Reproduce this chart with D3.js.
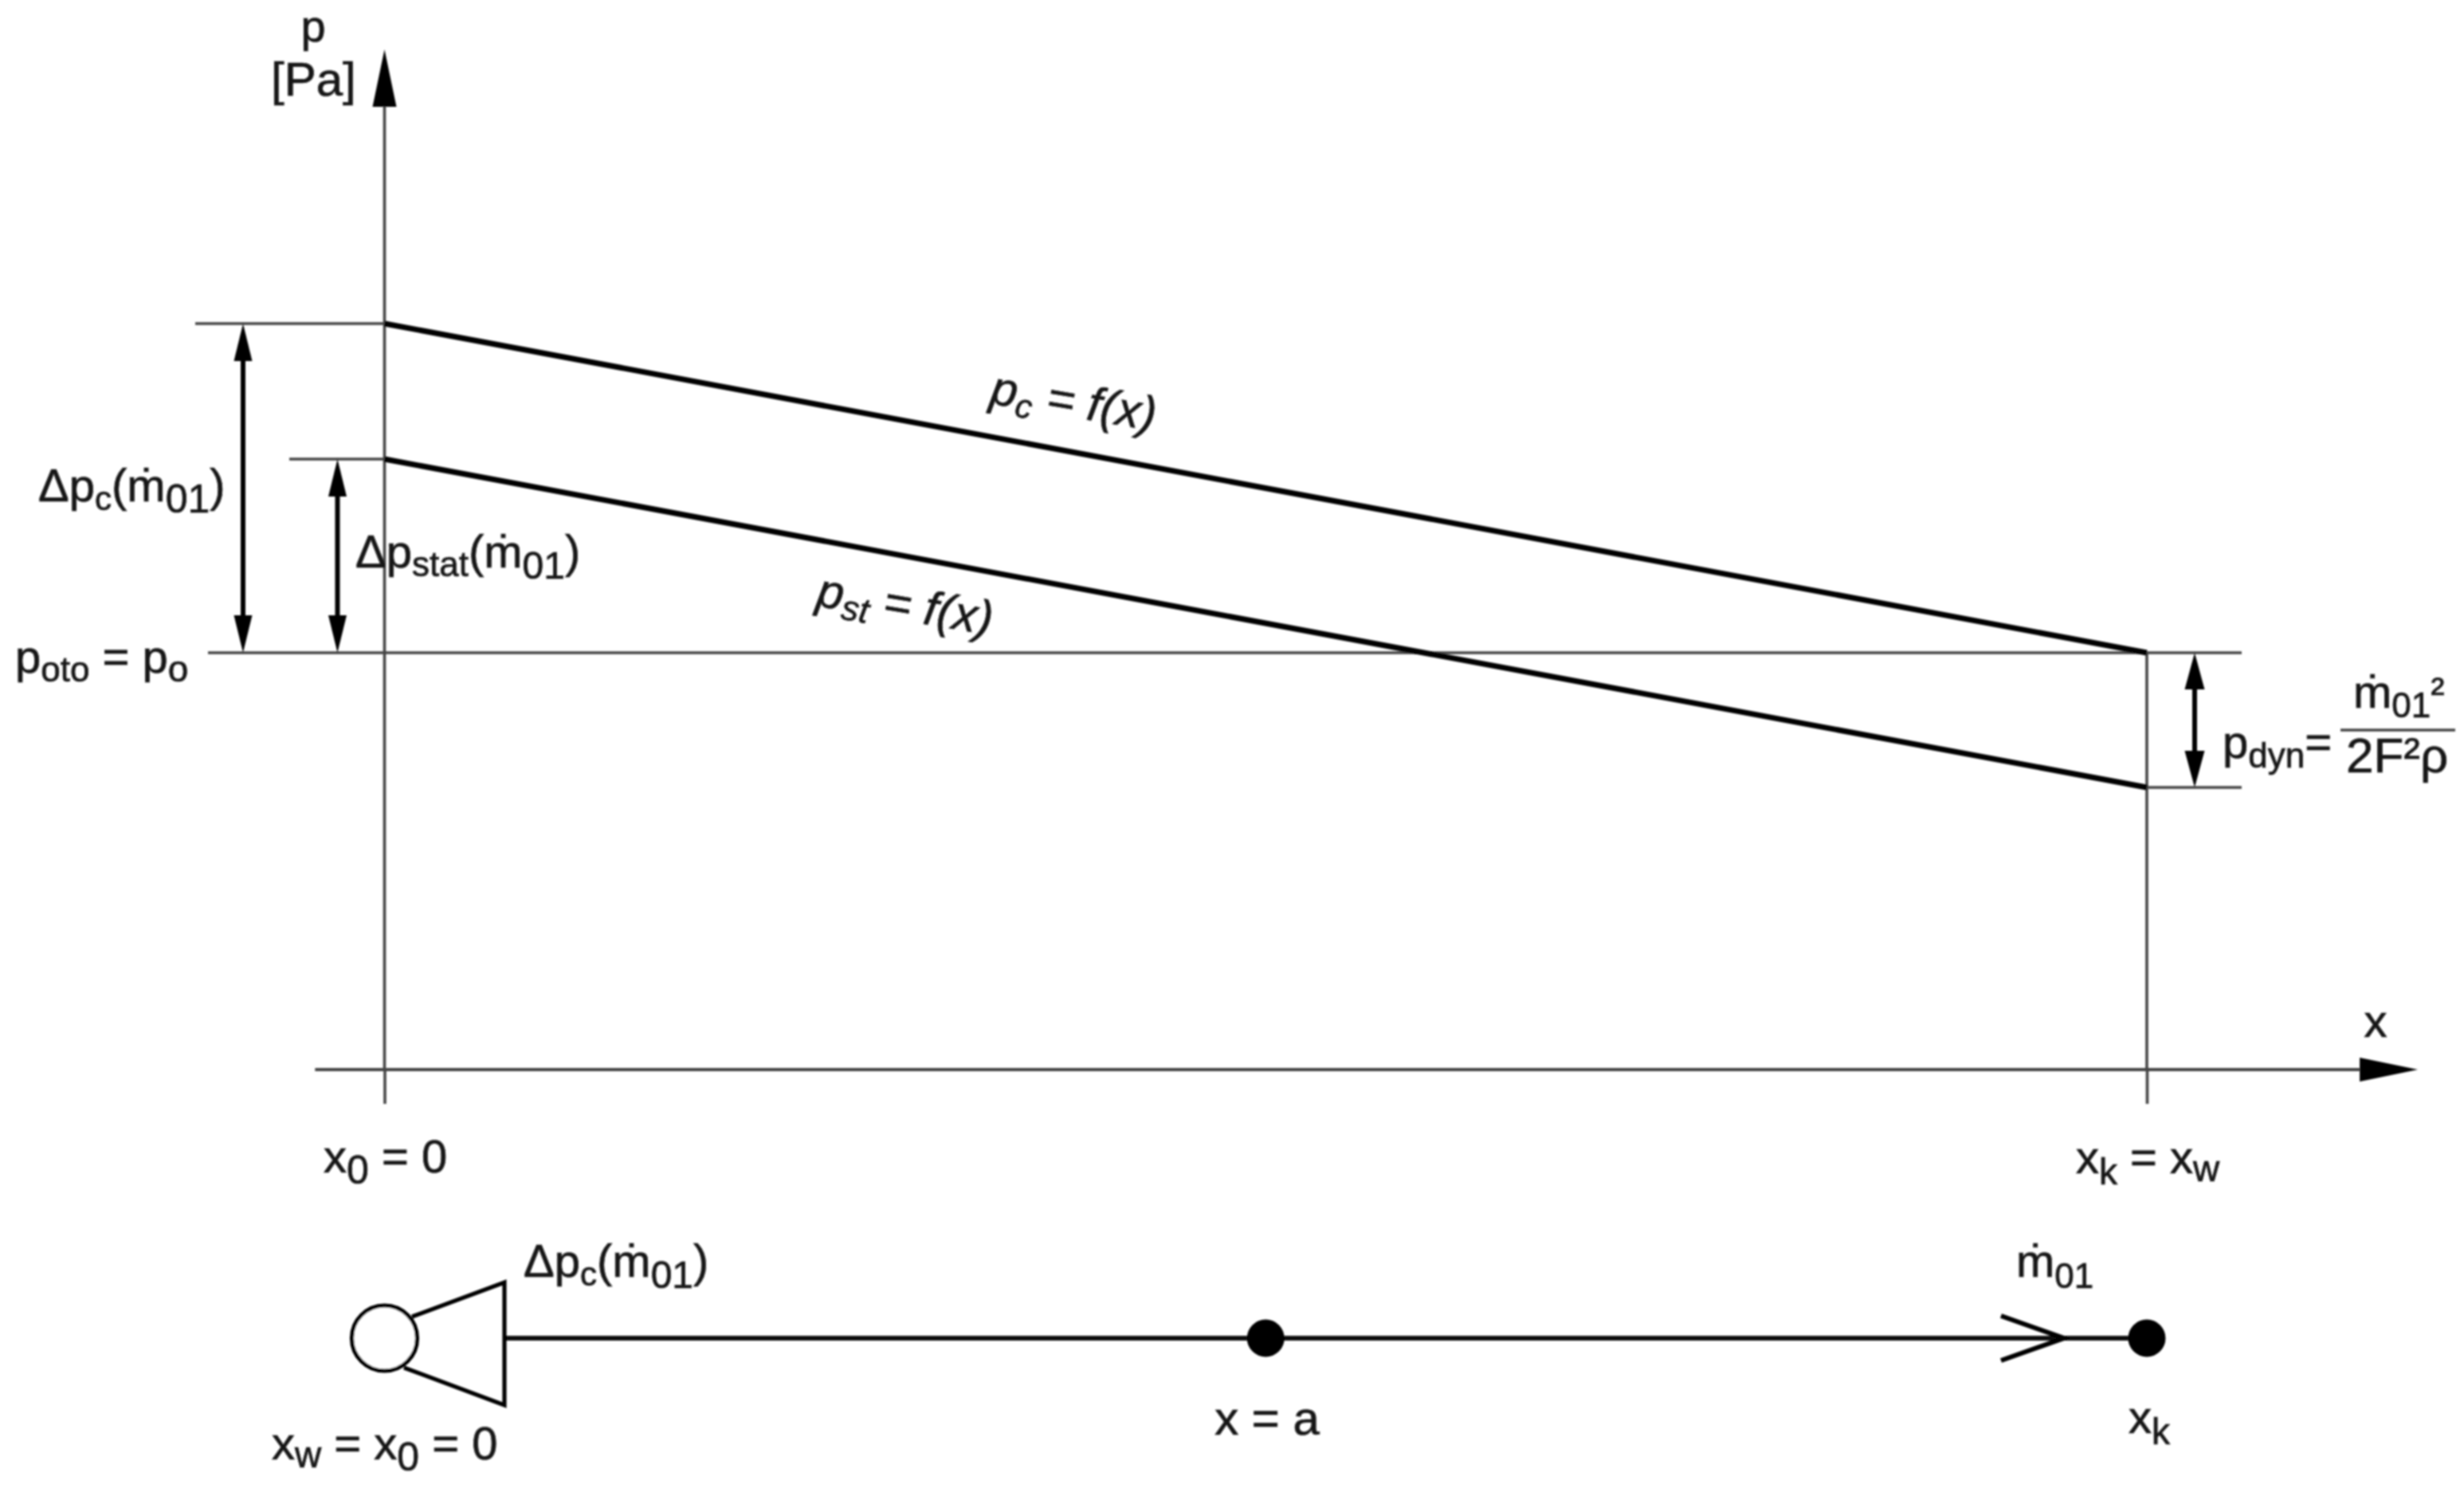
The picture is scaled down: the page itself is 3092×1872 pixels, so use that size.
<!DOCTYPE html>
<html>
<head>
<meta charset="utf-8">
<script src="https://cdn.jsdelivr.net/npm/d3@7/dist/d3.min.js"></script>
<style>
html,body{margin:0;padding:0;background:#fff;}
svg{display:block;}
text{font-family:"Liberation Sans",Arial,sans-serif;fill:#161616;stroke:#161616;stroke-width:0.7;}
</style>
</head>
<body>
<svg id="chart" width="3092" height="1872"></svg>
<script>
// ---- data (diagram units: position along the pipe 0..1, pressure relative to p0) ----
const positions = [0, 1];
const pTotal = [4.13, 0];
const pStatic = [2.43, -1.69];
const pAmbient = 0;
const pAxisBase = -5.23;
const pAxisTop = 7.57;
const xAxisStart = -0.0394;
const xAxisEnd = 1.1208;
const xArrowTip = 1.1538;
const nodePositions = [0.5, 1];
const pumpPosition = 0;

const W = 3092, H = 1872;
const x = d3.scaleLinear().domain([0, 1]).range([482.5, 2694]);
const y = d3.scaleLinear().domain([pAxisBase, pAxisTop]).range([1342, 62]);

const svg = d3.select("#chart");
const defs = svg.append("defs");
defs.append("filter").attr("id", "soft")
  .attr("filterUnits", "userSpaceOnUse").attr("x", 0).attr("y", 0).attr("width", W).attr("height", H)
  .append("feGaussianBlur").attr("stdDeviation", 1.0);
const g = svg.append("g").attr("filter", "url(#soft)");

const thin = {stroke: "#454545", w: 3.6};
function line(x1, y1, x2, y2, color, w) {
  g.append("line").attr("x1", x1).attr("y1", y1).attr("x2", x2).attr("y2", y2)
    .attr("stroke", color).attr("stroke-width", w);
}
function poly(pts, fill, stroke, w) {
  g.append("polygon").attr("points", pts.map(p => p.join(",")).join(" "))
    .attr("fill", fill).attr("stroke", stroke || "none").attr("stroke-width", w || 0);
}

// axes
const xAxisY = y(pAxisBase);
const xAxis = d3.axisBottom(x).tickValues(positions).tickFormat("").tickSize(43).tickSizeOuter(0);
const axisG = g.append("g").attr("transform", `translate(0,${xAxisY})`).call(xAxis);
axisG.select(".domain").remove();
axisG.selectAll("line").attr("stroke", thin.stroke).attr("stroke-width", thin.w);
line(x(xAxisStart), xAxisY, x(xAxisEnd), xAxisY, thin.stroke, thin.w + 0.6);
poly([[x(xArrowTip), xAxisY], [x(xAxisEnd), xAxisY - 15], [x(xAxisEnd), xAxisY + 15]], "#000");

line(x(0), xAxisY, x(0), y(pAxisTop) + 72, thin.stroke, thin.w);
poly([[x(0), y(pAxisTop)], [x(0) - 15, y(pAxisTop) + 72], [x(0) + 15, y(pAxisTop) + 72]], "#000");

// right vertical (x = x_k) from p0 down to axis
line(x(1), y(pAmbient), x(1), xAxisY, thin.stroke, thin.w);

// reference lines
line(245, y(pTotal[0]), x(0), y(pTotal[0]), thin.stroke, thin.w);
line(363, y(pStatic[0]), x(0), y(pStatic[0]), thin.stroke, thin.w);
line(261, y(pAmbient), 2813, y(pAmbient), thin.stroke, thin.w);
line(x(1), y(pStatic[1]), 2813, y(pStatic[1]), thin.stroke, thin.w);

// pressure lines
const pressureLine = d3.line().x(d => x(d[0])).y(d => y(d[1]));
[pTotal, pStatic].forEach(series => {
  g.append("path").attr("d", pressureLine(positions.map((p, i) => [p, series[i]])))
    .attr("fill", "none").attr("stroke", "#000").attr("stroke-width", 7);
});

// double arrows
function dimArrow(ax, y1, y2, len, hw) {
  line(ax, y1 + len - 4, ax, y2 - len + 4, "#000", 6);
  poly([[ax, y1], [ax - hw, y1 + len], [ax + hw, y1 + len]], "#000");
  poly([[ax, y2], [ax - hw, y2 - len], [ax + hw, y2 - len]], "#000");
}
dimArrow(305, y(pTotal[0]), y(pAmbient), 47, 11.5);
dimArrow(423.5, y(pStatic[0]), y(pAmbient), 47, 11.5);
dimArrow(2754, y(pAmbient), y(pStatic[1]), 46, 12.5);

// lower schematic
const netY = 1679;
line(634, netY, x(1), netY, "#111", 6);
nodePositions.forEach(n => {
  g.append("circle").attr("cx", x(n)).attr("cy", netY).attr("r", 23.5).attr("fill", "#000");
});
g.append("polyline").attr("points", `2511,${netY - 28} 2590,${netY} 2511,${netY + 28}`)
  .attr("fill", "none").attr("stroke", "#000").attr("stroke-width", 6);
g.append("circle").attr("cx", x(pumpPosition)).attr("cy", netY).attr("r", 41)
  .attr("fill", "#fff").attr("stroke", "#000").attr("stroke-width", 5.2);
g.append("polyline").attr("points", `517,1652 633,1609 633,1763 507,1716`)
  .attr("fill", "none").attr("stroke", "#000").attr("stroke-width", 5.2).attr("stroke-linejoin", "miter");

// rich text
const S = (t, size, shift) => ({t, sub: true, size: size || 40, shift: shift || 11});
function rich(px, py, runs, opt) {
  opt = opt || {};
  const size = opt.size || 58;
  const te = g.append("text").attr("x", px).attr("y", py).attr("font-size", size);
  if (opt.anchor) te.attr("text-anchor", opt.anchor);
  if (opt.rotate) te.attr("transform", `rotate(${opt.rotate} ${px} ${py})`);
  if (opt.italic) te.attr("font-style", "italic");
  let cur = 0;
  runs.forEach(r => {
    const run = typeof r === "string" ? {t: r} : r;
    const s = run.sub ? run.shift : 0;
    const ts = te.append("tspan").text(run.t).attr("dy", s - cur);
    if (run.size) ts.attr("font-size", run.size);
    cur = s;
  });
  return te;
}

rich(393, 52, ["p"], {anchor: "middle", size: 56});
rich(340, 120, ["[Pa]"], {size: 60});
rich(48, 629, ["Δp", S("c", 42), "(ṁ", S("01", 50, 14), ")"]);
rich(446, 712, ["Δp", S("stat", 44), "(ṁ", S("01", 48, 14), ")"]);
rich(19, 844, ["p", S("oto", 44), " = p", S("o", 46)]);
rich(1241, 506, ["p", S("c", 42), " = f(x)"], {rotate: 9.5, italic: true, size: 60});
rich(1023, 760, ["p", S("st", 44), " = f(x)"], {rotate: 9.5, italic: true, size: 60});

rich(406, 1471, ["x", S("0", 50, 14), " = 0"]);
rich(2605, 1472, ["x", S("k", 46, 14), " = x", S("w", 46, 10)]);
rich(2981, 1301, ["x"], {anchor: "middle"});

rich(657, 1602, ["Δp", S("c", 42), "(ṁ", S("01", 48, 14), ")"]);
rich(2530, 1602, ["ṁ", S("01", 44, 14)]);
rich(1590, 1800, ["x = a"], {anchor: "middle", size: 60});
rich(2671, 1798, ["x", S("k", 46, 14)]);
rich(341, 1831, ["x", S("w", 46, 10), " = x", S("0", 50, 14), " = 0"]);

rich(2789, 951, ["p", S("dyn", 44, 12), "="]);
line(2937, 916, 3081, 916, thin.stroke, thin.w);
rich(2953, 888, ["ṁ", S("01", 44, 12), S("²", 52, -2)]);
rich(2944, 969, ["2F²ρ"], {size: 62});
</script>
</body>
</html>
